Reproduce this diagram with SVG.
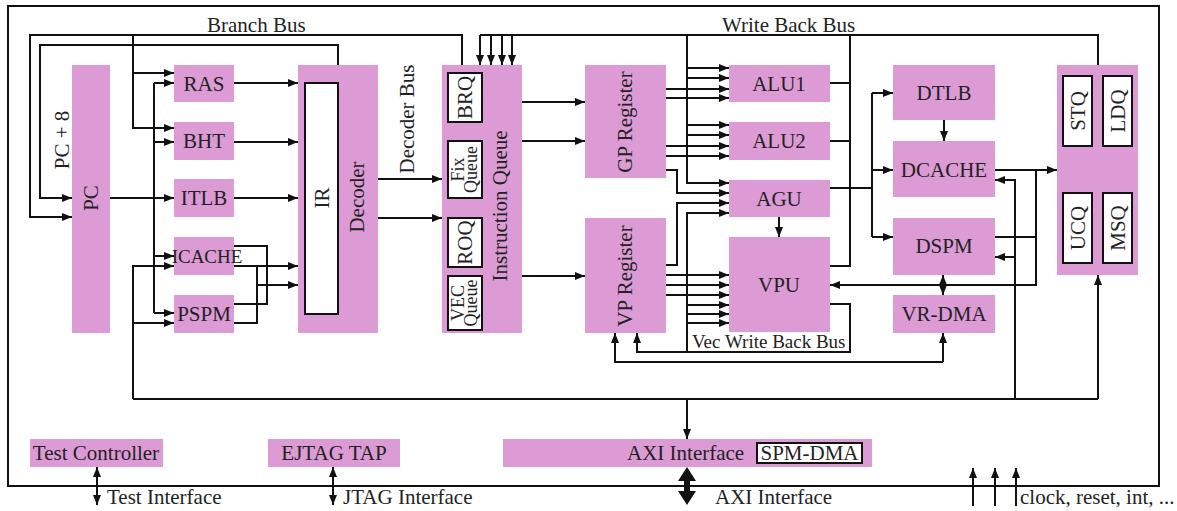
<svg xmlns="http://www.w3.org/2000/svg" width="1177" height="511" viewBox="0 0 1177 511">
<defs>
<marker id="ah" viewBox="0 0 10 8" refX="10" refY="4" markerWidth="10" markerHeight="8" markerUnits="userSpaceOnUse" orient="auto-start-reverse"><path d="M0,0 L10,4 L0,8 z" fill="#111"/></marker>
</defs>
<style>
.n{fill:#DC9BD4}
.w{fill:#fff;stroke:#111;stroke-width:2}
.l{fill:none;stroke:#111;stroke-width:2}
.a{marker-end:url(#ah)}
.d{marker-start:url(#ah);marker-end:url(#ah)}
text{font-family:"Liberation Serif","Times New Roman",serif;font-size:21px;fill:#222}
.c{text-anchor:middle}
.s{font-size:18px}
</style>
<rect x="8" y="6" width="1151" height="480" class="l"/>

<g id="connectors">
<path class="l a" d="M462,65 V35 H30 V217 H72"/>
<path class="l a" d="M338,65 V45 H40 V198 H72"/>
<path class="l a" d="M133,35 V128 H174"/>
<path class="l a" d="M133,73 H174"/>
<path class="l" d="M154,83 V313"/>
<path class="l a" d="M154,83 H174"/>
<path class="l a" d="M154,142 H174"/>
<path class="l a" d="M154,256 H174"/>
<path class="l a" d="M154,313 H174"/>
<path class="l a" d="M133,399 V266 H174"/>
<path class="l a" d="M133,323 H174"/>
<path class="l a" d="M110,198 H174"/>
<path class="l a" d="M234,83 H298"/>
<path class="l a" d="M234,142 H298"/>
<path class="l a" d="M234,198 H298"/>
<path class="l" d="M234,246 H267 V304 H234"/>
<path class="l" d="M234,323 H257 V266"/>
<path class="l a" d="M234,266 H298"/>
<path class="l a" d="M257,285 H298"/>
<path class="l a" d="M378,179 H442"/>
<path class="l a" d="M378,218 H442"/>
<path class="l" d="M480,35 H1098 V65"/>
<path class="l a" d="M480,35 V65"/>
<path class="l a" d="M491,35 V65"/>
<path class="l a" d="M502,35 V65"/>
<path class="l a" d="M512,35 V65"/>
<path class="l a" d="M522,102 H585"/>
<path class="l a" d="M522,141 H585"/>
<path class="l a" d="M522,276 H585"/>
<path class="l a" d="M687,35 V183 H729"/>
<path class="l a" d="M687,68 H729"/>
<path class="l a" d="M687,78 H729"/>
<path class="l a" d="M687,125 H729"/>
<path class="l a" d="M687,135 H729"/>
<path class="l a" d="M666,89 H729"/>
<path class="l a" d="M666,98 H729"/>
<path class="l a" d="M666,146 H729"/>
<path class="l a" d="M666,156 H729"/>
<path class="l a" d="M666,170 H677 V193 H729"/>
<path class="l a" d="M666,265 H677 V203 H729"/>
<path class="l a" d="M687,352 V213 H729"/>
<path class="l a" d="M687,305 H729"/>
<path class="l a" d="M687,314 H729"/>
<path class="l a" d="M687,323 H729"/>
<path class="l a" d="M666,275 H729"/>
<path class="l a" d="M666,285 H729"/>
<path class="l a" d="M666,295 H729"/>
<path class="l a" d="M779,217 V237"/>
<path class="l" d="M830,83 H850 M830,141 H850 M830,266 H850 V35"/>
<path class="l a" d="M830,304 H850 V352 H637 V333"/>
<path class="l a" d="M943,362 H615 V333"/>
<path class="l a" d="M943,362 V333"/>
<path class="l" d="M830,188 H872 M872,93 V237"/>
<path class="l a" d="M872,93 H893"/>
<path class="l a" d="M872,170 H893"/>
<path class="l a" d="M872,237 H893"/>
<path class="l a" d="M944,120 V141"/>
<path class="l a" d="M995,170 H1057"/>
<path class="l" d="M995,237 H1036"/>
<path class="l a" d="M1036,170 V285 H830"/>
<path class="l d" d="M943,275 V295"/>
<path class="l a" d="M1015,399 V180 H995"/>
<path class="l a" d="M1015,257 H995"/>
<path class="l a" d="M1098,399 V275"/>
<path class="l" d="M133,399 H1098"/>
<path class="l a" d="M687,399 V439"/>
<path class="l d" d="M97,467 V505"/>
<path class="l d" d="M333,467 V505"/>
<polygon fill="#111" points="687,467 696,481 690,481 690,491 696,491 687,505 678,491 684,491 684,481 678,481"/>
<path class="l a" d="M973,506 V468"/>
<path class="l a" d="M995,506 V468"/>
<path class="l a" d="M1016,506 V468"/>
</g>

<g id="labels">
<text x="207" y="32">Branch Bus</text>
<text x="722" y="32">Write Back Bus</text>
<text class="c" transform="translate(69,140) rotate(-90)">PC + 8</text>
<text class="c" transform="translate(414,119) rotate(-90)">Decoder Bus</text>
<text x="692" y="348" style="font-size:19px">Vec Write Back Bus</text>
<text x="107" y="504">Test Interface</text>
<text x="343" y="504">JTAG Interface</text>
<text x="715" y="504">AXI Interface</text>
<text x="1020" y="504">clock, reset, int, ...</text>
</g>

<g id="pc"><rect class="n" x="72" y="65" width="38" height="268"/><text class="c" transform="translate(98,198) rotate(-90)">PC</text></g>
<g id="ras"><rect class="n" x="174" y="65" width="60" height="37"/><text class="c" x="204" y="91">RAS</text></g>
<g id="bht"><rect class="n" x="174" y="122" width="60" height="38"/><text class="c" x="204" y="148">BHT</text></g>
<g id="itlb"><rect class="n" x="174" y="179" width="60" height="38"/><text class="c" x="204" y="205">ITLB</text></g>
<g id="icache"><rect class="n" x="174" y="237" width="60" height="38"/><text class="c" x="207" y="263" style="font-size:19px">ICACHE</text></g>
<g id="pspm"><rect class="n" x="174" y="295" width="60" height="38"/><text class="c" x="204" y="321">PSPM</text></g>
<g id="decoder"><rect class="n" x="298" y="65" width="80" height="268"/><rect class="w" x="305" y="83" width="33" height="231"/><text class="c" transform="translate(329,198) rotate(-90)">IR</text><text class="c" transform="translate(364,197) rotate(-90)">Decoder</text></g>
<g id="iq"><rect class="n" x="442" y="65" width="80" height="268"/>
<rect class="w" x="448" y="73" width="34" height="49"/><text class="c" transform="translate(472,97.5) rotate(-90)">BRQ</text>
<rect class="w" x="448" y="141" width="34" height="57"/><text class="c s" transform="translate(465,169.5) rotate(-90)"><tspan x="0" y="-1">Fix</tspan><tspan x="0" y="12">Queue</tspan></text>
<rect class="w" x="448" y="218" width="34" height="49"/><text class="c" transform="translate(472,242.5) rotate(-90)">ROQ</text>
<rect class="w" x="448" y="276" width="34" height="54"/><text class="c s" transform="translate(465,303) rotate(-90)"><tspan x="0" y="-1">VEC</tspan><tspan x="0" y="12">Queue</tspan></text>
<text class="c" transform="translate(507,206) rotate(-90)">Instruction Queue</text></g>
<g id="gpreg"><rect class="n" x="585" y="65" width="81" height="113"/><text class="c" transform="translate(632,122) rotate(-90)">GP Register</text></g>
<g id="vpreg"><rect class="n" x="585" y="218" width="81" height="115"/><text class="c" transform="translate(632,276) rotate(-90)">VP Register</text></g>
<g id="alu1"><rect class="n" x="729" y="65" width="101" height="37"/><text class="c" x="779" y="91">ALU1</text></g>
<g id="alu2"><rect class="n" x="729" y="122" width="101" height="38"/><text class="c" x="779" y="148">ALU2</text></g>
<g id="agu"><rect class="n" x="729" y="180" width="101" height="37"/><text class="c" x="779" y="206">AGU</text></g>
<g id="vpu"><rect class="n" x="729" y="237" width="101" height="95"/><text class="c" x="779" y="292">VPU</text></g>
<g id="dtlb"><rect class="n" x="893" y="65" width="102" height="55"/><text class="c" x="944" y="100">DTLB</text></g>
<g id="dcache"><rect class="n" x="893" y="141" width="102" height="56"/><text class="c" x="944" y="177">DCACHE</text></g>
<g id="dspm"><rect class="n" x="893" y="218" width="102" height="57"/><text class="c" x="944" y="253">DSPM</text></g>
<g id="vrdma"><rect class="n" x="893" y="295" width="102" height="38"/><text class="c" x="944" y="321">VR-DMA</text></g>
<g id="lsu"><rect class="n" x="1057" y="65" width="81" height="210"/>
<rect class="w" x="1063" y="76" width="29" height="70"/><text class="c" transform="translate(1084.5,111) rotate(-90)">STQ</text>
<rect class="w" x="1103" y="76" width="29" height="70"/><text class="c" transform="translate(1124.5,111) rotate(-90)">LDQ</text>
<rect class="w" x="1063" y="193" width="29" height="70"/><text class="c" transform="translate(1084.5,228) rotate(-90)">UCQ</text>
<rect class="w" x="1103" y="193" width="29" height="70"/><text class="c" transform="translate(1124.5,228) rotate(-90)">MSQ</text></g>
<g id="testctrl"><rect class="n" x="30" y="439" width="133" height="28"/><text class="c" x="96" y="460">Test Controller</text></g>
<g id="ejtag"><rect class="n" x="268" y="439" width="132" height="28"/><text class="c" x="334" y="460">EJTAG TAP</text></g>
<g id="axi"><rect class="n" x="503" y="439" width="369" height="28"/><text x="627" y="460">AXI Interface</text><rect class="w" x="757" y="443" width="105" height="20"/><text class="c" x="809.5" y="460">SPM-DMA</text></g>
</svg>
